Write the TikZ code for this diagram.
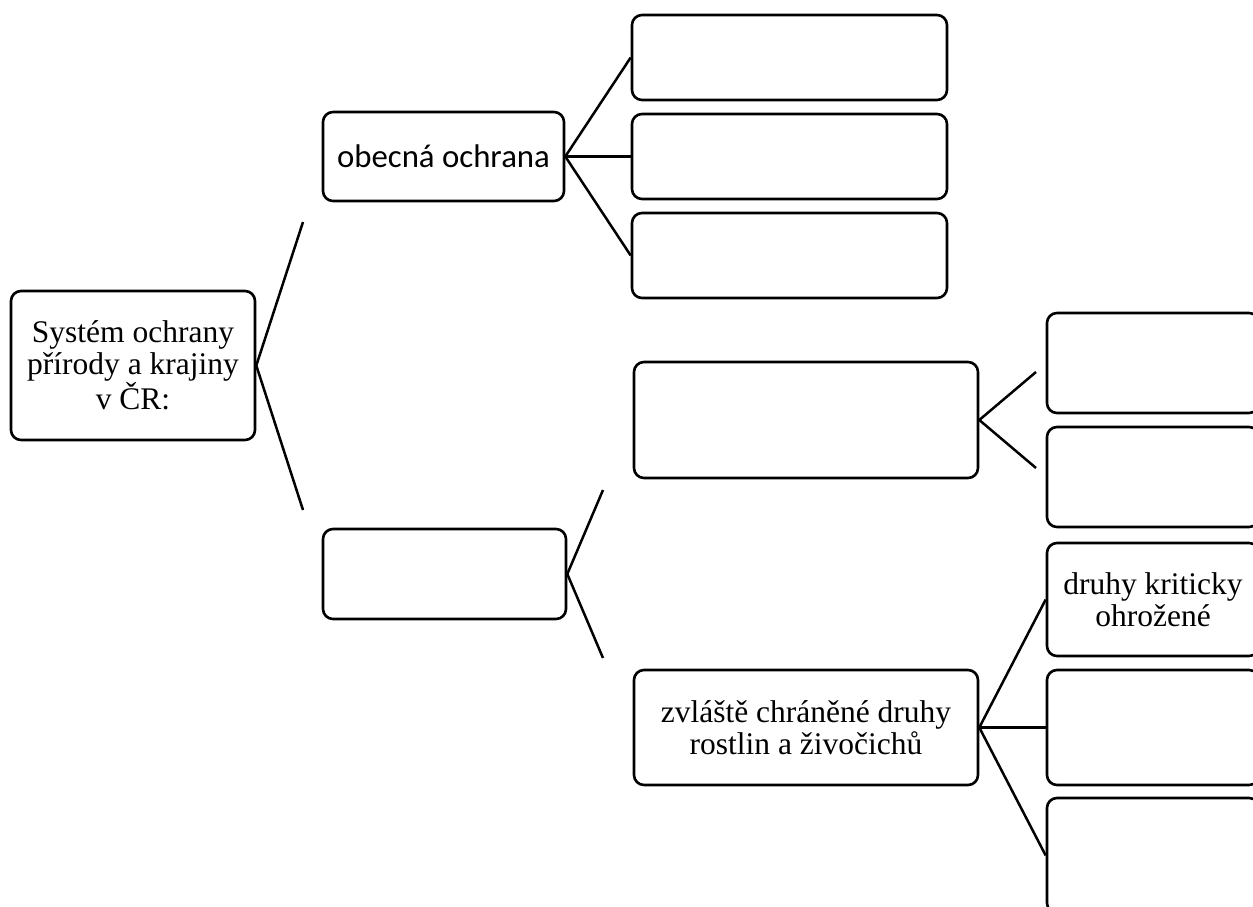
\documentclass[tikz,border=0pt]{standalone}
\usepackage{fontspec}
\setmainfont{Liberation Serif}
\newfontfamily\calib{Carlito}
\begin{document}
\begin{tikzpicture}[x=1pt,y=-1pt,
  box/.style={draw=black, line width=2.6pt, rounded corners=10pt, inner sep=0pt,
    align=center, font=\fontsize{31.5}{32}\selectfont},
  conn/.style={draw=black, line width=2.5pt}]
\path[use as bounding box] (0,0) rectangle (1253,907);
\clip (0,0) rectangle (1253,907);
% level 0
\node[box, minimum width=244pt, minimum height=149pt] (root) at (133,365.5)
  {Systém ochrany\\přírody a krajiny\\v ČR:};
% level 1
\node[box, minimum width=241pt, minimum height=89pt, font=\calib\fontsize{32.8}{34}\selectfont] (obec) at (443.5,156.5) {obecná ochrana};
\node[box, minimum width=243pt, minimum height=90pt] (spec) at (444.5,574) {};
% level 2 (general)
\node[box, minimum width=315pt, minimum height=85pt] (t1) at (789.5,57.5) {};
\node[box, minimum width=315pt, minimum height=85pt] (t2) at (789.5,156.5) {};
\node[box, minimum width=315pt, minimum height=85pt] (t3) at (789.5,255.5) {};
% level 2 (special)
\node[box, minimum width=344pt, minimum height=116pt] (mid) at (806,420) {};
\node[box, minimum width=344pt, minimum height=115pt] (zv) at (806,727.5)
  {zvláště chráněné druhy\\rostlin a živočichů};
% level 3
\node[box, minimum width=212pt, minimum height=100pt] (r1) at (1153,363) {};
\node[box, minimum width=212pt, minimum height=100pt] (r2) at (1153,477) {};
\node[box, minimum width=212pt, minimum height=113pt] (r3) at (1153,599.5)
  {druhy kriticky\\ohrožené};
\node[box, minimum width=212pt, minimum height=115pt] (r4) at (1153,727.5) {};
\node[box, minimum width=212pt, minimum height=115pt] (r5) at (1153,855.5) {};
% free ends
\coordinate (rootA) at (303,222);
\coordinate (rootB) at (303,510);
\coordinate (specA) at (603,490);
\coordinate (specB) at (603,658);
\coordinate (midA) at (1036,372);
\coordinate (midB) at (1036,468);
% connectors
\draw[conn] (rootA) -- (root.east) -- (rootB);
\draw[conn] (obec.east) -- (t1.west);
\draw[conn] (obec.east) -- (t2.west);
\draw[conn] (obec.east) -- (t3.west);
\draw[conn] (specA) -- (spec.east) -- (specB);
\draw[conn] (midA) -- (mid.east) -- (midB);
\draw[conn] (zv.east) -- (r3.west);
\draw[conn] (zv.east) -- (r4.west);
\draw[conn] (zv.east) -- (r5.west);
\end{tikzpicture}
\end{document}
